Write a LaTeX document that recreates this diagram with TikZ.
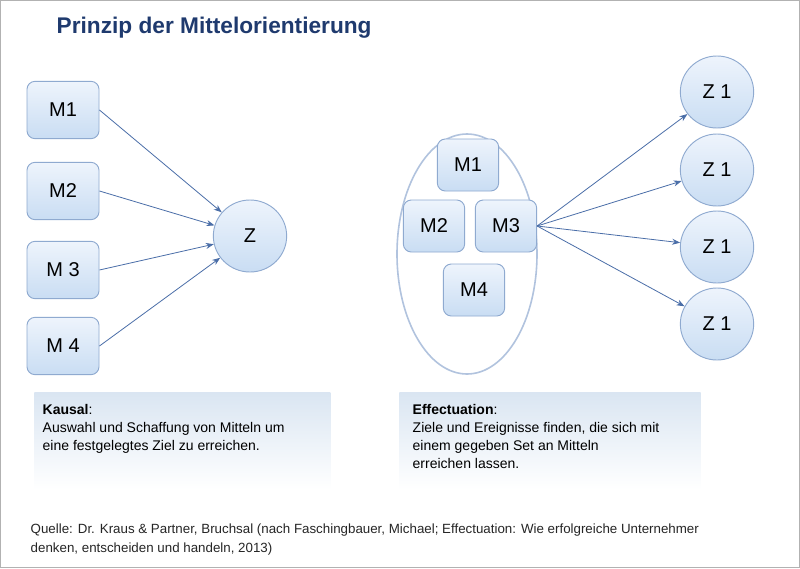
\documentclass[tikz,border=0pt]{standalone}
\usepackage{fontspec}
\setmainfont{Liberation Sans}
\usetikzlibrary{shapes.geometric,arrows.meta}
\definecolor{navy}{HTML}{1F3A6E}
\definecolor{bfill}{HTML}{C9DDF3}
\definecolor{bfillt}{HTML}{EEF4FC}
\definecolor{bdraw}{HTML}{8FAAD0}
\definecolor{arr}{HTML}{4A6EA8}
\tikzset{
  mbox/.style={draw=bdraw,rounded corners=6pt,top color=bfillt,bottom color=bfill,minimum width=54pt,minimum height=43pt,font=\fontsize{15}{15}\selectfont,line width=0.7pt},
  zc/.style={draw=bdraw,ellipse,top color=bfillt,bottom color=bfill,minimum width=55pt,minimum height=54pt,font=\fontsize{15}{15}\selectfont,line width=0.7pt},
  con/.style={-{Stealth[length=6pt,width=4.5pt]},draw=arr,line width=0.6pt},
  tbox/.style={top color=black!4!bfill!60,bottom color=white,draw=none}
}
\begin{document}
\begin{tikzpicture}[x=0.75pt,y=-0.75pt]
\useasboundingbox (0,0) rectangle (800,568);
\fill[white] (0,0) rectangle (800,568);
\draw[gray!60,line width=0.7pt] (0.5,0.5) rectangle (799.5,567.5);
\node[anchor=west,font=\bfseries\fontsize{17}{17}\selectfont,text=navy] (title) at (52,28) {Prinzip der Mittelorientierung};
\node[mbox] (m1) at (63,110) {M1};
\node[mbox] (m2) at (63,191) {M2};
\node[mbox] (m3) at (63,270) {M 3};
\node[mbox] (m4) at (63,346) {M 4};
\node[zc] (z) at (250,236) {Z};
\foreach \m in {m1,m2,m3,m4} \draw[con] (\m.east) -- (z);
\node[draw=bdraw!70,line width=1.2pt,ellipse,minimum width=105pt,minimum height=180pt] (ell) at (467,254) {};
\node[mbox,minimum width=46pt,minimum height=39pt] (r1) at (468,165) {M1};
\node[mbox,minimum width=46pt,minimum height=39pt] (r2) at (434,226) {M2};
\node[mbox,minimum width=46pt,minimum height=39pt] (r3) at (506,226) {M3};
\node[mbox,minimum width=46pt,minimum height=39pt] (r4) at (474,290) {M4};
\foreach \y/\n in {92/a,170/b,247/c,324/d}{
  \node[zc] (z\n) at (717,\y) {Z 1};
  \draw[con] (r3.east) -- (z\n);
}
\node[tbox,minimum width=222pt,minimum height=73pt,anchor=north west] (kb) at (34,392) {};
\node[anchor=north west,align=left,font=\fontsize{10.5}{13.5}\selectfont] (kt) at (38,400) {\textbf{Kausal}:\\Auswahl und Schaffung von Mitteln um\\eine festgelegtes Ziel zu erreichen.};
\node[tbox,minimum width=226pt,minimum height=73pt,anchor=north west] (eb) at (399,392) {};
\node[anchor=north west,align=left,font=\fontsize{10.5}{13.5}\selectfont] (et) at (408,400) {\textbf{Effectuation}:\\Ziele und Ereignisse finden, die sich mit\\einem gegeben Set an Mitteln\\erreichen lassen.};
\node[anchor=north west,align=left,font=\fontsize{10}{14}\selectfont,text=black!85] (src) at (26,519) {Quelle: Dr. Kraus \& Partner, Bruchsal (nach Faschingbauer, Michael; Effectuation: Wie erfolgreiche Unternehmer\\denken, entscheiden und handeln, 2013)};
\end{tikzpicture}
\end{document}
